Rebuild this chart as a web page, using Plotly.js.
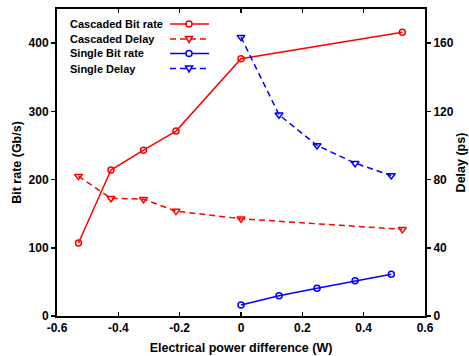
<!DOCTYPE html>
<html><head><meta charset="utf-8">
<script src="https://cdn.plot.ly/plotly-3.0.1.min.js"></script>
<style>html,body{margin:0;padding:0;background:#fff}</style>
</head><body><div id="chart" style="width:469px;height:356px"></div>
<script>
// ---- data ----
const cascadedX = [-0.53, -0.424, -0.318, -0.212, 0, 0.526];
const cascadedBitRate = [107, 214, 243, 271, 377, 416];
const cascadedDelay = [82, 69, 68.5, 61.5, 57, 50.8];
const singleX = [0, 0.124, 0.248, 0.372, 0.49];
const singleBitRate = [16, 29.6, 40.8, 51.5, 61.3];
const singleDelay = [163.5, 118, 100, 89.6, 82.4];
const xTickVals = [-0.6, -0.4, -0.2, 0, 0.2, 0.4, 0.6];
const xTickText = ["-0.6", "-0.4", "-0.2", "0", "0.2", "0.4", "0.6"];
const yTickVals = [0, 100, 200, 300, 400];
const yTickText = ["0", "100", "200", "300", "400"];
const y2TickVals = [0, 40, 80, 120, 160];
const y2TickText = ["0", "40", "80", "120", "160"];
const seriesNames = ["Cascaded Bit rate", "Cascaded Delay", "Single Bit rate", "Single Delay"];

const RED = "#ff0000", BLUE = "#0000ff";
const FAM = "Liberation Sans, Arial, sans-serif";
const tickFont = {family: FAM, size: 12, color: "#000"};
const bold = a => a.map(s => "<b>" + s + "</b>");

const traces = [
  {x: cascadedX, y: cascadedBitRate, name: seriesNames[0], mode: "lines+markers",
   line: {color: RED, width: 1.5}, marker: {symbol: "circle-open", size: 6, color: RED, line: {width: 1.5, color: RED}}},
  {x: cascadedX, y: cascadedDelay, name: seriesNames[1], yaxis: "y2", mode: "lines+markers",
   line: {color: RED, width: 1.5, dash: "6px,4px"}, marker: {symbol: "triangle-down-open", size: 7, color: RED, line: {width: 1.5, color: RED}}},
  {x: singleX, y: singleBitRate, name: seriesNames[2], mode: "lines+markers",
   line: {color: BLUE, width: 1.5}, marker: {symbol: "circle-open", size: 6, color: BLUE, line: {width: 1.5, color: BLUE}}},
  {x: singleX, y: singleDelay, name: seriesNames[3], yaxis: "y2", mode: "lines+markers",
   line: {color: BLUE, width: 1.5, dash: "6px,4px"}, marker: {symbol: "triangle-down-open", size: 7, color: BLUE, line: {width: 1.5, color: BLUE}}}
];

// custom legend (text left, sample right) in paper coordinates
const W = 469, H = 356, L = 57, R = 44, T = 9, B = 40;
const pw = W - L - R, ph = H - T - B;
const px2x = p => (p - L) / pw;
const py2y = p => (H - B - p) / ph;
const rowsY = [24, 39, 53.5, 68.5];
const colors = [RED, RED, BLUE, BLUE];
const dashes = ["solid", "6px,4px", "solid", "6px,4px"];
const annotations = [], shapes = [];
seriesNames.forEach((n, i) => {
  const cy = rowsY[i];
  annotations.push({text: "<b>" + n + "</b>", xref: "paper", yref: "paper", x: px2x(68), y: py2y(cy),
    xanchor: "left", yanchor: "middle", showarrow: false,
    font: {family: FAM, size: 11, color: "#000"}});
  shapes.push({type: "line", xref: "paper", yref: "paper", x0: px2x(170), x1: px2x(209), y0: py2y(cy), y1: py2y(cy),
    line: {color: colors[i], width: 1.5, dash: dashes[i]}});
  const cx = 189;
  if (i % 2 === 0) {
    shapes.push({type: "circle", xref: "paper", yref: "paper", x0: px2x(cx - 3), x1: px2x(cx + 3), y0: py2y(cy + 3), y1: py2y(cy - 3),
      line: {color: colors[i], width: 1.5}, fillcolor: "#fff"});
  } else {
    const p = [[cx - 3.5, cy - 2.5], [cx + 3.5, cy - 2.5], [cx, cy + 3.5]];
    shapes.push({type: "path", xref: "paper", yref: "paper",
      path: "M" + p.map(q => px2x(q[0]) + "," + py2y(q[1])).join("L") + "Z",
      line: {color: colors[i], width: 1.5}, fillcolor: "#fff"});
  }
});

const titleFont = {family: FAM, size: 12.5, color: "#000"};
const layout = {
  width: W, height: H, margin: {l: L, r: R, t: T, b: B},
  paper_bgcolor: "#fff", plot_bgcolor: "#fff", showlegend: false,
  xaxis: {range: [-0.6, 0.6], tickvals: xTickVals, ticktext: bold(xTickText), ticks: "inside", ticklen: 4, tickwidth: 1.5,
    tickcolor: "#000", showline: true, linecolor: "#000", linewidth: 2, mirror: "ticks", showgrid: false, zeroline: false,
    tickfont: tickFont,
    title: {text: "<b>Electrical power difference (W)</b>", font: titleFont, standoff: 9}},
  yaxis: {range: [0, 450], tickvals: yTickVals, ticktext: bold(yTickText), ticks: "outside", ticklen: 4, tickwidth: 1.5, tickcolor: "#000",
    showline: true, linecolor: "#000", linewidth: 2, showgrid: false, zeroline: false, tickfont: tickFont,
    title: {text: "<b>Bit rate (Gb/s)</b>", font: titleFont, standoff: 4}},
  yaxis2: {range: [0, 180], tickvals: y2TickVals, ticktext: bold(y2TickText), overlaying: "y", side: "right", ticks: "outside", ticklen: 4, tickwidth: 1.5,
    tickcolor: "#000", showline: true, linecolor: "#000", linewidth: 2, showgrid: false, zeroline: false, tickfont: tickFont,
    title: {text: "<b>Delay (ps)</b>", font: titleFont, standoff: 4}},
  annotations: annotations, shapes: shapes
};
Plotly.newPlot("chart", traces, layout, {displayModeBar: false, staticPlot: true});
</script></body></html>
